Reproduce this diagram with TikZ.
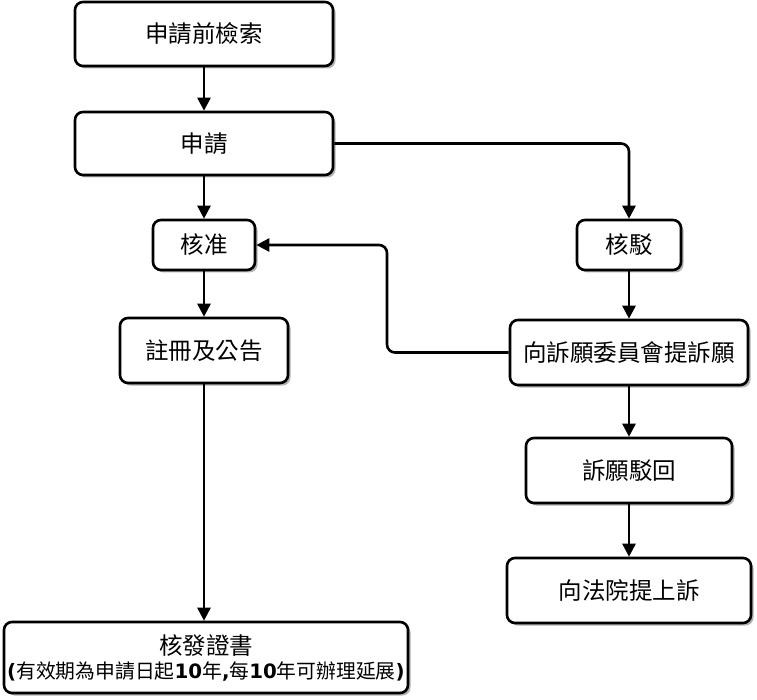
\documentclass[tikz,border=0pt]{standalone}
\usepackage{fontspec}
\setmainfont{Noto Sans CJK TC}
\newfontfamily\latinbold[BoldFont={DejaVu Sans Bold}]{DejaVu Sans}
\usetikzlibrary{arrows.meta,shadows,calc}
\tikzset{
  box/.style={draw=black, line width=2.6pt, rounded corners=8pt, fill=white,
    inner sep=0pt, align=center, font=\fontsize{23.5}{28}\selectfont,
    drop shadow={shadow xshift=2.5pt, shadow yshift=-2.5pt, fill=black!30, opacity=1}},
  conn/.style={draw=black, line width=2.6pt, -{Triangle[length=13pt,width=13pt]}},
}
\newcommand{\lb}[1]{{\latinbold\bfseries #1}}
\begin{document}
\begin{tikzpicture}[x=1pt,y=-1pt]
\useasboundingbox (0,0) rectangle (757,700);
\node[box, minimum width=258pt, minimum height=64pt] (b1) at (204,34) {申請前檢索};
\node[box, minimum width=258pt, minimum height=63pt] (b2) at (204,143.5) {申請};
\node[box, minimum width=102pt, minimum height=50pt] (b3) at (204,245) {核准};
\node[box, minimum width=168pt, minimum height=65pt] (b4) at (204,350.5) {註冊及公告};
\node[box, minimum width=104pt, minimum height=50pt] (b5) at (629,245) {核駁};
\node[box, minimum width=238pt, minimum height=65pt] (b6) at (629,352.5) {向訴願委員會提訴願};
\node[box, minimum width=206pt, minimum height=65pt] (b7) at (629,470.5) {訴願駁回};
\node[box, minimum width=244pt, minimum height=65pt] (b8) at (629,590.5) {向法院提上訴};
\node[box, minimum width=404pt, minimum height=71pt] (b9) at (206,657.5)
  {核發證書\\[-4pt]{\fontsize{19.8}{24}\selectfont\lb{(}有效期為申請日起\lb{10}年\lb{,}每\lb{10}年可辦理延展\lb{)}}};
\coordinate (fb) at (387,0);
\draw[conn] (b1) -- (b2);
\draw[conn] (b2) -- (b3);
\draw[conn] (b3) -- (b4);
\draw[conn] (b4.south) -- (b4.south |- b9.north);
\draw[conn, rounded corners=8pt] (b2.east) -| (b5.north);
\draw[conn] (b5) -- (b6);
\draw[conn, rounded corners=8pt] (b6.west) -- (b6.west -| fb) |- (b3.east);
\draw[conn] (b6) -- (b7);
\draw[conn] (b7) -- (b8);
\end{tikzpicture}
\end{document}
